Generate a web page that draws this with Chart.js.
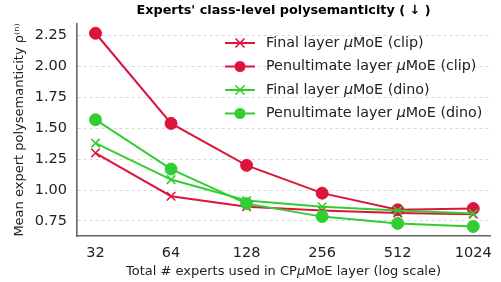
<!DOCTYPE html>
<html lang="en">
<head>
<meta charset="UTF-8">
<style>
  html, body { margin: 0; padding: 0; background: #fff; }
  #wrap { width: 501px; height: 282px; }
</style>
</head>
<body>
<div id="wrap"><canvas id="polyChart" width="501" height="282"></canvas></div>
<script src="https://cdn.jsdelivr.net/npm/chart.js"></script>
<script>
const experts = [32, 64, 128, 256, 512, 1024];
const finalClip = [1.30, 0.95, 0.865, 0.835, 0.815, 0.805];
const penultClip = [2.27, 1.54, 1.20, 0.975, 0.84, 0.85];
const finalDino = [1.38, 1.085, 0.915, 0.865, 0.835, 0.81];
const penultDino = [1.57, 1.17, 0.89, 0.785, 0.73, 0.705];
const yTicks = [0.75, 1.00, 1.25, 1.50, 1.75, 2.00, 2.25];
const seriesLabels = [
    "Final layer \u03bcMoE (clip)",
    "Penultimate layer \u03bcMoE (clip)",
    "Final layer \u03bcMoE (dino)",
    "Penultimate layer \u03bcMoE (dino)"
];

const RED = "#dc143c";
const GREEN = "#32cd32";
const FONT = "'DejaVu Sans', sans-serif";
const TEXT = "#222";

function pts(vals) {
    return experts.map((e, i) => ({ x: e, y: vals[i] }));
}

function series(label, vals, color, style, order) {
    return {
        label: label,
        data: pts(vals),
        borderColor: color,
        backgroundColor: color,
        borderWidth: 2,
        pointStyle: style,
        pointRadius: 6,
        pointBorderWidth: style === "circle" ? 1 : 1.6,
        pointBorderColor: color,
        pointBackgroundColor: color,
        tension: 0,
        order: order
    };
}

// write text with the greek mu in italic, like the mathtext in the figure
function muText(c, str, x, y, size, align) {
    const parts = str.split("\u03bc");
    const plain = size + "px " + FONT;
    const ital = "italic " + size + "px " + FONT;
    let total = 0;
    parts.forEach((p, i) => {
        c.font = plain; total += c.measureText(p).width;
        if (i < parts.length - 1) { c.font = ital; total += c.measureText("\u03bc").width; }
    });
    let cx = align === "center" ? x - total / 2 : x;
    c.textAlign = "left";
    parts.forEach((p, i) => {
        c.font = plain; c.fillText(p, cx, y); cx += c.measureText(p).width;
        if (i < parts.length - 1) {
            c.font = ital; c.fillText("\u03bc", cx, y); cx += c.measureText("\u03bc").width;
        }
    });
}

// titles and legend drawn by hand so they sit where the figure has them
const decorations = {
    id: "decorations",
    afterDraw(chart) {
        const c = chart.ctx;
        const a = chart.chartArea;
        c.save();
        c.fillStyle = "#000";
        c.textAlign = "center";
        c.textBaseline = "middle";
        c.font = "bold 12.8px " + FONT;
        c.fillText("Experts' class-level polysemanticity ( \u2193 )", (a.left + a.right) / 2, 11);

        c.fillStyle = TEXT;
        muText(c, "Total # experts used in CP\u03bcMoE layer (log scale)", (a.left + a.right) / 2, 272, 13, "center");

        c.save();
        c.translate(20, (a.top + a.bottom) / 2);
        c.rotate(-Math.PI / 2);
        c.textAlign = "center";
        c.font = "13px " + FONT;
        c.fillText("Mean expert polysemanticity \u03c1\u207d\u207f\u207e", 0, 0);
        c.restore();

        // legend
        const rows = [43, 66.5, 90, 113.5];
        chart.data.datasets.forEach((ds, i) => {
            const y = rows[i];
            c.strokeStyle = ds.borderColor;
            c.lineWidth = 2;
            c.beginPath();
            c.moveTo(225, y);
            c.lineTo(255, y);
            c.stroke();
            if (ds.pointStyle === "circle") {
                c.fillStyle = ds.borderColor;
                c.beginPath();
                c.arc(240, y, 5.5, 0, Math.PI * 2);
                c.fill();
            } else {
                c.lineWidth = 1.6;
                c.beginPath();
                c.moveTo(235.5, y - 4.5); c.lineTo(244.5, y + 4.5);
                c.moveTo(235.5, y + 4.5); c.lineTo(244.5, y - 4.5);
                c.stroke();
            }
            c.fillStyle = TEXT;
            muText(c, ds.label, 266, y, 14.3, "left");
        });
        c.restore();
    }
};

const config = {
    type: "line",
    data: {
        datasets: [
            series(seriesLabels[0], finalClip, RED, "crossRot", 4),
            series(seriesLabels[1], penultClip, RED, "circle", 3),
            series(seriesLabels[2], finalDino, GREEN, "crossRot", 2),
            series(seriesLabels[3], penultDino, GREEN, "circle", 1)
        ]
    },
    options: {
        responsive: false,
        animation: false,
        devicePixelRatio: 1,
        layout: { padding: { top: 24, right: 3, left: 0, bottom: 0 } },
        plugins: {
            legend: { display: false },
            tooltip: { enabled: false },
            title: { display: false }
        },
        scales: {
            x: {
                type: "logarithmic",
                min: 27,
                max: 1195,
                afterBuildTicks: (s) => { s.ticks = experts.map(v => ({ value: v })); },
                afterFit: (s) => { s.height = 46; },
                grid: { display: false, drawTicks: false },
                border: { display: true, color: "#666", width: 1.6 },
                ticks: {
                    padding: 9,
                    color: TEXT,
                    font: { family: FONT, size: 14.5 },
                    maxRotation: 0,
                    autoSkip: false,
                    callback: (v) => String(v)
                }
            },
            y: {
                type: "linear",
                min: 0.628,
                max: 2.345,
                afterBuildTicks: (s) => { s.ticks = yTicks.map(v => ({ value: v })); },
                afterFit: (s) => { s.width = 77; },
                grid: { color: "#cfcfcf", lineWidth: 0.8, drawTicks: false },
                border: { display: true, color: "#666", width: 1.6, dash: [3, 3] },
                ticks: {
                    padding: 10,
                    color: TEXT,
                    font: { family: FONT, size: 14.5 },
                    callback: (v) => Number(v).toFixed(2)
                }
            }
        }
    },
    plugins: [decorations]
};

const ctx = document.getElementById("polyChart").getContext("2d");
new Chart(ctx, config);
</script>
</body>
</html>
